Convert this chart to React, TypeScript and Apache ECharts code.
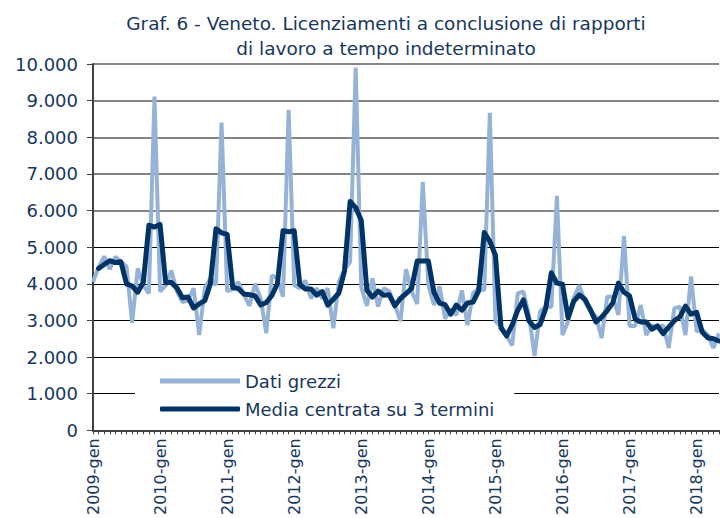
import React, { useEffect, useRef } from "react";
import * as echarts from "echarts";

const months = ["gen", "feb", "mar", "apr", "mag", "giu", "lug", "ago", "set", "ott", "nov", "dic"];
const years = [2009, 2010, 2011, 2012, 2013, 2014, 2015, 2016, 2017, 2018];

const rawData = [
  // 2009
  4050, 4450, 4750, 4400, 4740, 4600, 4470, 2930, 4420, 3960, 3740, 9110,
  // 2010
  3790, 3950, 4360, 3800, 3500, 3550, 3880, 2600, 3880, 4150, 3960, 8400,
  // 2011
  3800, 3850, 4050, 3700, 3400, 4000, 3600, 2650, 4230, 4150, 3650, 8750,
  // 2012
  3960, 3880, 4090, 3600, 3880, 3600, 3880, 2790, 4060, 4400, 4600, 9900,
  // 2013
  3900, 3400, 4150, 3380, 3880, 3800, 3420, 2980, 4400, 3800, 3450, 6780,
  // 2014
  3960, 3420, 3930, 3050, 3300, 3150, 3820, 2870, 3740, 3880, 3820, 8670,
  // 2015
  2980, 2840, 2580, 2320, 3740, 3790, 3150, 2030, 3250, 3380, 3370, 6400,
  // 2016
  2600, 2980, 3620, 3960, 3520, 3250, 3100, 2520, 3650, 3650, 3150, 5310,
  // 2017
  2850, 2850, 3420, 2600, 2870, 2800, 2870, 2250, 3330, 3380, 2600, 4200,
  // 2018
  2700, 2750, 2600, 2250, 2650,
];

const maData = [
  // 2009
  null, 4420, 4530, 4630, 4580, 4600, 4000, 3940, 3770, 4040, 5600, 5550,
  // 2010
  5620, 4030, 4040, 3890, 3620, 3640, 3340, 3450, 3540, 4000, 5500, 5390,
  // 2011
  5350, 3900, 3870, 3720, 3700, 3670, 3420, 3490, 3680, 4010, 5450, 5420,
  // 2012
  5450, 3980, 3860, 3860, 3690, 3790, 3420, 3580, 3750, 4350, 6250, 6080,
  // 2013
  5730, 3820, 3640, 3800, 3690, 3700, 3400, 3600, 3730, 3880, 4620, 4620,
  // 2014
  4620, 3770, 3470, 3430, 3170, 3420, 3280, 3480, 3500, 3810, 5400, 5160,
  // 2015
  4780, 2800, 2580, 2880, 3280, 3560, 2990, 2810, 2890, 3330, 4300, 4020,
  // 2016
  3990, 3070, 3520, 3700, 3580, 3290, 2960, 3090, 3270, 3480, 4020, 3770,
  // 2017
  3670, 3040, 2960, 2960, 2760, 2850, 2640, 2820, 2990, 3100, 3390, 3170,
  // 2018
  3220, 2680, 2530, 2500, 2440,
];

const categories: string[] = [];
years.forEach((y) => months.forEach((m) => categories.push(`${y}-${m}`)));
categories.length = rawData.length;

const titleLines = ["Graf. 6 - Veneto. Licenziamenti a conclusione di rapporti", "di lavoro a tempo indeterminato"];
const seriesNames = ["Dati grezzi", "Media centrata su 3 termini"];

const NAVY = "#17375e";
const FONT = "DejaVu Sans";

export default function App() {
  const ref = useRef<HTMLDivElement>(null);
  useEffect(() => {
    document.body.style.margin = "0";
    const chart = echarts.init(ref.current!, undefined, { renderer: "svg" });
    const T = "rgba(0,0,0,0)";
    const blackLines = ["#000", "#000", "#000", "#000", "#000", "#000", T, T, T, T, T];
    const grayLines = [T, T, T, T, T, T, "#858585", "#858585", "#858585", "#858585", "#858585"];
    chart.setOption({
      animation: false,
      backgroundColor: "#fff",
      title: {
        text: titleLines.join("\n"),
        left: 381,
        top: 6,
        textAlign: "center",
        textStyle: { color: NAVY, fontFamily: FONT, fontSize: 18.5, fontWeight: "normal", lineHeight: 25 },
      },
      legend: {
        orient: "vertical",
        left: 135,
        top: 365,
        backgroundColor: "#fff",
        padding: [7, 20, 8, 25],
        itemGap: 10,
        itemWidth: 80,
        itemHeight: 5,
        icon: "rect",
        textStyle: { color: NAVY, fontFamily: FONT, fontSize: 18, padding: [0, 0, 0, 0] },
        data: [
          { name: seriesNames[0], icon: "rect" },
          { name: seriesNames[1], icon: "roundRect" },
        ],
      },
      grid: { left: 93, right: 1, top: 64, bottom: 85.5, containLabel: false },
      xAxis: {
        type: "category",
        data: categories,
        boundaryGap: false,
        axisLine: { lineStyle: { color: "#404040", width: 2 } },
        axisTick: { show: true, interval: 0, length: 4, lineStyle: { color: "#404040", width: 1 } },
        axisLabel: {
          interval: 11,
          rotate: 90,
          color: NAVY,
          fontFamily: FONT,
          fontSize: 16,
          margin: 8,
        },
        splitLine: { show: false },
      },
      yAxis: [
        {
          type: "value",
          min: 0,
          max: 10000,
          interval: 1000,
          axisLine: { show: true, lineStyle: { color: "#404040", width: 2 } },
          axisTick: { show: true, length: 6, lineStyle: { color: "#404040", width: 1 } },
          axisLabel: {
            color: NAVY,
            fontFamily: FONT,
            fontSize: 18,
            margin: 15,
            formatter: (v: number) => (v >= 1000 ? `${Math.floor(v / 1000)}.${String(v % 1000).padStart(3, "0")}` : `${v}`),
          },
          splitLine: { show: true, lineStyle: { color: blackLines, width: 1 } },
        },
        {
          type: "value",
          min: 0,
          max: 10000,
          interval: 1000,
          position: "left",
          axisLine: { show: false },
          axisTick: { show: false },
          axisLabel: { show: false },
          splitLine: { show: true, lineStyle: { color: grayLines, width: 2 } },
        },
      ],
      series: [
        {
          name: seriesNames[0],
          type: "line",
          data: rawData,
          yAxisIndex: 0,
          symbol: "none",
          lineStyle: { color: "#95b3d7", width: 4 },
          itemStyle: { color: "#95b3d7" },
          z: 3,
        },
        {
          name: seriesNames[1],
          type: "line",
          data: maData,
          yAxisIndex: 0,
          symbol: "none",
          connectNulls: false,
          lineStyle: { color: "#003366", width: 5, join: "round", cap: "round" },
          itemStyle: { color: "#003366" },
          z: 4,
        },
      ],
    });
    return () => chart.dispose();
  }, []);
  return <div ref={ref} style={{ width: 720, height: 518 }} />;
}
